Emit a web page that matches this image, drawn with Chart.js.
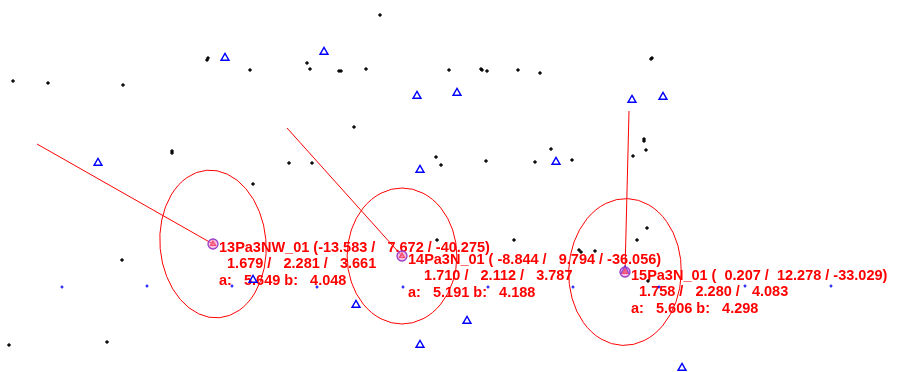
<!DOCTYPE html>
<html>
<head>
<meta charset="utf-8">
<script src="https://cdn.jsdelivr.net/npm/chart.js@4.4.0/dist/chart.umd.min.js"></script>
<style>
  html, body { margin: 0; padding: 0; background: #ffffff; }
  #c { display: block; }
</style>
</head>
<body>
<canvas id="c" width="912" height="372"></canvas>
<script>
// ---- Adjusted stations: names, coordinates (E / N / H), sigmas, error ellipse ----
const stationNames = ['13Pa3NW_01', '14Pa3N_01', '15Pa3N_01'];
const stationE = [-13.583, -8.844, 0.207];
const stationN = [7.672, 9.794, 12.278];
const stationH = [-40.275, -36.056, -33.029];
const sigmaE = [1.679, 1.710, 1.758];
const sigmaN = [2.281, 2.112, 2.280];
const sigmaH = [3.661, 3.787, 4.083];
const ellipseA = [5.649, 5.191, 5.606];
const ellipseB = [4.048, 4.188, 4.298];
const ellipseTiltDeg = [-5, 0, 2];

// Station positions in the plan (map units)
const stationX = [213, 402, 625];
const stationY = [244, 256, 272];

// Far end of each observation ray
const rayX = [37, 287, 629];
const rayY = [144, 128, 111];

// Detail points (black)
const detailX = [380, 207, 208, 250, 307, 310, 339, 341, 366, 449, 13, 48, 123, 354, 172, 172, 289, 312, 436, 441, 253,
                 481, 482, 487, 518, 540, 651, 652, 644, 644, 646, 633, 551, 486, 535, 572,
                 122, 107, 9, 437, 514, 579, 581, 595, 647, 637, 648];
const detailY = [15, 60, 58, 70, 63, 69, 71, 71, 69, 70, 81, 83, 85, 127, 151, 153, 163, 163, 157, 165, 184,
                 69, 70, 71, 70, 73, 59, 58, 139, 141, 150, 156, 149, 161, 162, 160,
                 260, 342, 345, 240, 240, 250, 252, 251, 228, 240, 281];

// Control points (blue triangles)
const controlX = [225, 324, 417, 457, 98, 420, 632, 663, 556, 253, 356, 420, 467, 682, 625];
const controlY = [58, 52, 96, 93, 163, 170, 100, 97, 162, 280, 305, 345, 321, 368, 271];

// Grid points (blue)
const gridX = [62, 147, 232, 317, 403, 488, 573, 659, 745, 831];
const gridY = [287, 286, 286, 287, 287, 287, 287, 287, 286, 286];

// ---- layout of the drawing ----
const ELLIPSE_SCALE = 13.1;          // map units per ellipse unit
const RED = '#ff0000';
const LABEL_FONT = 'bold 14.5px "Liberation Sans", Arial, sans-serif';
const sigmaIndent = [0, 2, 0];       // extra spaces in front of the sigma line

const f3 = (v, w) => v.toFixed(3).padStart(w, ' ');

function labelLines(i) {
  return [
    stationNames[i] + ' (' + f3(stationE[i], 7) + ' / ' + f3(stationN[i], 7) + ' /' + f3(stationH[i], 8) + ')',
    ' '.repeat(2 + sigmaIndent[i]) + f3(sigmaE[i], 5) + ' /  ' + f3(sigmaN[i], 6) + ' /  ' + f3(sigmaH[i], 6),
    'a:  ' + f3(ellipseA[i], 6) + ' b:  ' + f3(ellipseB[i], 6)
  ];
}

const toPts = (xs, ys) => xs.map((x, i) => ({ x: x, y: ys[i] }));

// Rays, ellipses and labels go underneath the point symbols
const planPlugin = {
  id: 'planOverlay',
  beforeDatasetsDraw(chart) {
    const ctx = chart.ctx;
    const sx = chart.scales.x, sy = chart.scales.y;
    const pxPerUnitX = Math.abs(sx.getPixelForValue(1) - sx.getPixelForValue(0));
    const pxPerUnitY = Math.abs(sy.getPixelForValue(1) - sy.getPixelForValue(0));
    ctx.save();
    stationNames.forEach((name, i) => {
      const cx = sx.getPixelForValue(stationX[i]);
      const cy = sy.getPixelForValue(stationY[i]);
      // observation ray
      ctx.strokeStyle = RED;
      ctx.lineWidth = 1;
      ctx.beginPath();
      ctx.moveTo(sx.getPixelForValue(rayX[i]), sy.getPixelForValue(rayY[i]));
      ctx.lineTo(cx, cy);
      ctx.stroke();
      // error ellipse: major axis a (vertical), minor axis b
      ctx.beginPath();
      ctx.ellipse(cx, cy,
        ellipseB[i] * ELLIPSE_SCALE * pxPerUnitX,
        ellipseA[i] * ELLIPSE_SCALE * pxPerUnitY,
        ellipseTiltDeg[i] * Math.PI / 180, 0, Math.PI * 2);
      ctx.stroke();
      // station label
      ctx.fillStyle = RED;
      ctx.font = LABEL_FONT;
      ctx.textBaseline = 'middle';
      ctx.textAlign = 'left';
      const lines = labelLines(i);
      const dy = [3.5, 20, 36.5];
      lines.forEach((t, k) => ctx.fillText(t, cx + 6, cy + dy[k]));
    });
    ctx.restore();
  }
};

new Chart(document.getElementById('c'), {
  type: 'scatter',
  data: {
    datasets: [
      {
        label: 'Detail points',
        data: toPts(detailX, detailY),
        pointStyle: 'cross',
        pointRadius: 1.8,
        borderColor: '#000000',
        backgroundColor: '#000000',
        borderWidth: 1.5
      },
      {
        label: 'Grid points',
        data: toPts(gridX, gridY),
        pointStyle: 'cross',
        pointRadius: 1.5,
        borderColor: '#0000ff',
        backgroundColor: '#0000ff',
        borderWidth: 1.2
      },
      {
        label: 'Stations',
        data: toPts(stationX, stationY),
        pointStyle: 'circle',
        pointRadius: 5,
        borderColor: '#9a3cc8',
        backgroundColor: 'rgba(240,140,200,0.55)',
        borderWidth: 1.3
      },
      {
        label: 'Station marks',
        data: toPts(stationX, stationY),
        pointStyle: 'triangle',
        pointRadius: 3,
        borderColor: RED,
        backgroundColor: 'rgba(255,0,0,0.5)',
        borderWidth: 1.2
      },
      {
        label: 'Control points',
        data: toPts(controlX, controlY),
        pointStyle: 'triangle',
        pointRadius: 4.6,
        borderColor: '#0000ff',
        backgroundColor: 'rgba(255,255,255,0)',
        borderWidth: 1.4
      }
    ]
  },
  options: {
    responsive: false,
    animation: false,
    events: [],
    layout: { padding: 0, autoPadding: false },
    plugins: { legend: { display: false }, tooltip: { enabled: false } },
    scales: {
      x: { type: 'linear', min: 0, max: 912, display: false },
      y: { type: 'linear', min: 0, max: 372, reverse: true, display: false }
    }
  },
  plugins: [planPlugin]
});
</script>
</body>
</html>
